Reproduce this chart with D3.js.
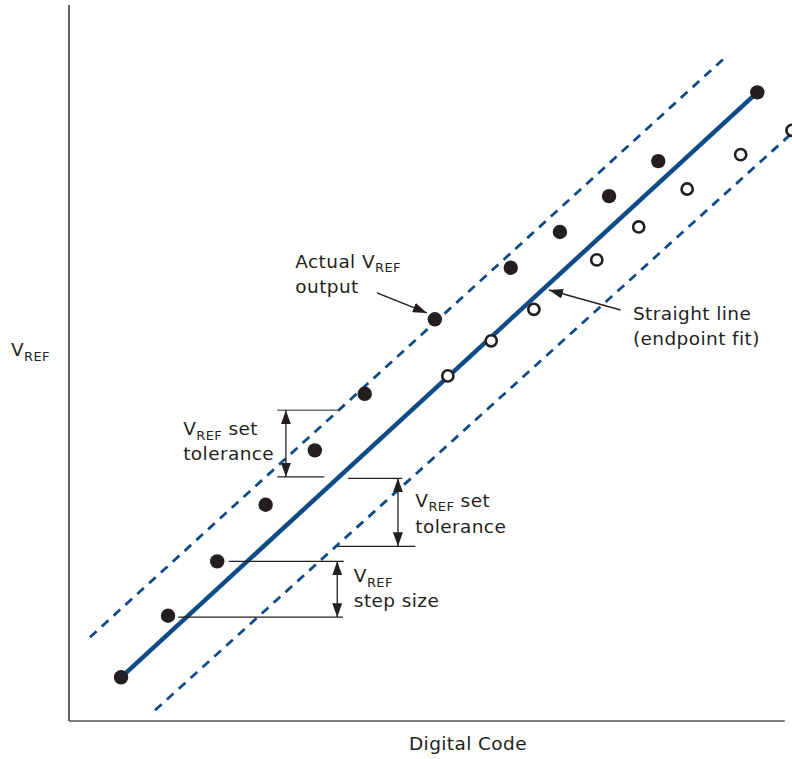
<html>
<head>
    <script src="https://d3js.org/d3.v7.min.js"></script>
    <style>
        body { margin: 0; background: #fff; }
        text { font-family: "DejaVu Sans", sans-serif; fill: #231f20; letter-spacing: 0.4px; }
    </style>
</head>
<body>
<svg width="792" height="759"></svg>
<script>
    // data units: code 0..100, VREF 0..100
    const filledX = [7.2, 13.7, 20.5, 27.2, 34.0, 40.9, 50.6, 61.1, 67.9, 74.7, 81.5, 95.2];
    const filledY = [6.1, 14.7, 22.3, 30.2, 37.8, 45.7, 56.1, 63.3, 68.3, 73.3, 78.2, 87.8];
    const openX = [52.4, 58.4, 64.3, 73.0, 78.8, 85.5, 92.9, 100];
    const openY = [48.2, 53.1, 57.5, 64.4, 69.0, 74.3, 79.1, 82.5];

    const fitLine = [[7.2, 6.1], [95.2, 87.8]];
    const upperBand = [[2.9, 11.7], [91.0, 92.9]];
    const lowerBand = [[11.9, 1.5], [100, 82.1]];

    // bracket lines [x1, x2, y] and double arrows [x, y1, y2]
    const guideLines = [
        [28.8, 37.2, 43.4, "#6d6e71"], [28.8, 35.3, 34.1, "#231f20"],
        [38.6, 46.1, 33.9, "#231f20"], [37.1, 47.9, 24.4, "#231f20"],
        [22.1, 38.0, 22.3, "#231f20"], [15.1, 37.9, 14.5, "#231f20"]
    ];
    const doubleArrows = [[30.0, 43.4, 34.1], [45.5, 33.9, 24.4], [37.1, 22.3, 14.5]];
    const pointerArrows = [[[42.6, 59.8], [49.5, 57.0]], [[76.3, 57.4], [66.4, 60.2]]];

    // label blocks: first line [main, sub, rest], second line text
    const labels = [
        { x: 31.3, y: 63.3, first: ["Actual V", "REF", ""], second: "output", gap: 25 },
        { x: 78.0, y: 56.0, first: ["Straight line", "", ""], second: "(endpoint fit)", gap: 25 },
        { x: 15.8, y: 39.9, first: ["V", "REF", " set"], second: "tolerance", gap: 25 },
        { x: 47.9, y: 29.9, first: ["V", "REF", " set"], second: "tolerance", gap: 26 },
        { x: 39.4, y: 19.4, first: ["V", "REF", ""], second: "step size", gap: 25 }
    ];

    const svg = d3.select("svg");
    const blue = "#0f4c87";
    const fs = 18.5, subFs = 13, subShift = 4.5;

    const x = d3.scaleLinear().domain([0, 100]).range([69, 792]);
    const y = d3.scaleLinear().domain([0, 100]).range([721, 5]);

    const defs = svg.append("defs");
    defs.append("marker")
        .attr("id", "head")
        .attr("viewBox", "0 0 14 10")
        .attr("refX", 14).attr("refY", 5)
        .attr("markerWidth", 14).attr("markerHeight", 10)
        .attr("markerUnits", "userSpaceOnUse")
        .attr("orient", "auto-start-reverse")
        .append("path")
        .attr("d", "M0,0 L14,5 L0,10 Z")
        .attr("fill", "#231f20");

    // axes (plain lines, no ticks)
    svg.append("line")
        .attr("x1", x(0)).attr("x2", x(0))
        .attr("y1", y(100)).attr("y2", y(0))
        .attr("stroke", "#333").attr("stroke-width", 1.5);
    svg.append("line")
        .attr("x1", x(0)).attr("x2", x(99))
        .attr("y1", y(0)).attr("y2", y(0))
        .attr("stroke", "#555").attr("stroke-width", 1.5);

    const line = d3.line().x(d => x(d[0])).y(d => y(d[1]));

    svg.append("path").attr("d", line(upperBand))
        .attr("fill", "none").attr("stroke", blue)
        .attr("stroke-width", 2.8).attr("stroke-dasharray", "9,7");
    svg.append("path").attr("d", line(lowerBand))
        .attr("fill", "none").attr("stroke", blue)
        .attr("stroke-width", 2.8).attr("stroke-dasharray", "9,7");
    svg.append("path").attr("d", line(fitLine))
        .attr("fill", "none").attr("stroke", blue)
        .attr("stroke-width", 4.5);

    // guide lines
    svg.selectAll(".guide")
        .data(guideLines)
        .enter().append("line")
        .attr("x1", d => x(d[0])).attr("x2", d => x(d[1]))
        .attr("y1", d => y(d[2])).attr("y2", d => y(d[2]))
        .attr("stroke", d => d[3]).attr("stroke-width", 1.3);

    svg.selectAll(".darrow")
        .data(doubleArrows)
        .enter().append("line")
        .attr("x1", d => x(d[0])).attr("x2", d => x(d[0]))
        .attr("y1", d => y(d[1])).attr("y2", d => y(d[2]))
        .attr("stroke", "#231f20").attr("stroke-width", 1.3)
        .attr("marker-start", "url(#head)")
        .attr("marker-end", "url(#head)");

    svg.selectAll(".parrow")
        .data(pointerArrows)
        .enter().append("line")
        .attr("x1", d => x(d[0][0])).attr("y1", d => y(d[0][1]))
        .attr("x2", d => x(d[1][0])).attr("y2", d => y(d[1][1]))
        .attr("stroke", "#231f20").attr("stroke-width", 1.5)
        .attr("marker-end", "url(#head)");

    // points
    svg.selectAll(".filled")
        .data(filledX.map((v, i) => [v, filledY[i]]))
        .enter().append("circle")
        .attr("cx", d => x(d[0])).attr("cy", d => y(d[1]))
        .attr("r", 7.2).attr("fill", "#231f20");

    svg.selectAll(".open")
        .data(openX.map((v, i) => [v, openY[i]]))
        .enter().append("circle")
        .attr("cx", d => x(d[0])).attr("cy", d => y(d[1]))
        .attr("r", 5.6).attr("fill", "#fff")
        .attr("stroke", "#231f20").attr("stroke-width", 2.6);

    // labels: one text element per block, lines as tspans
    labels.forEach(d => {
        const t = svg.append("text")
            .attr("x", x(d.x)).attr("y", y(d.y))
            .attr("font-size", fs);
        t.append("tspan").text(d.first[0]);
        if (d.first[1]) {
            t.append("tspan").attr("font-size", subFs).attr("dy", subShift).text(d.first[1]);
        }
        if (d.first[2]) {
            t.append("tspan").attr("dy", -subShift).text(d.first[2]);
        }
        t.append("tspan")
            .attr("x", x(d.x))
            .attr("y", y(d.y) + d.gap)
            .text(d.second);
    });

    const yl = svg.append("text").attr("x", 11).attr("y", 356).attr("font-size", fs);
    yl.append("tspan").text("V");
    yl.append("tspan").attr("font-size", subFs).attr("dy", subShift).text("REF");

    svg.append("text")
        .attr("x", 468).attr("y", 750)
        .attr("text-anchor", "middle")
        .attr("font-size", fs)
        .text("Digital Code");
</script>
</body>
</html>
